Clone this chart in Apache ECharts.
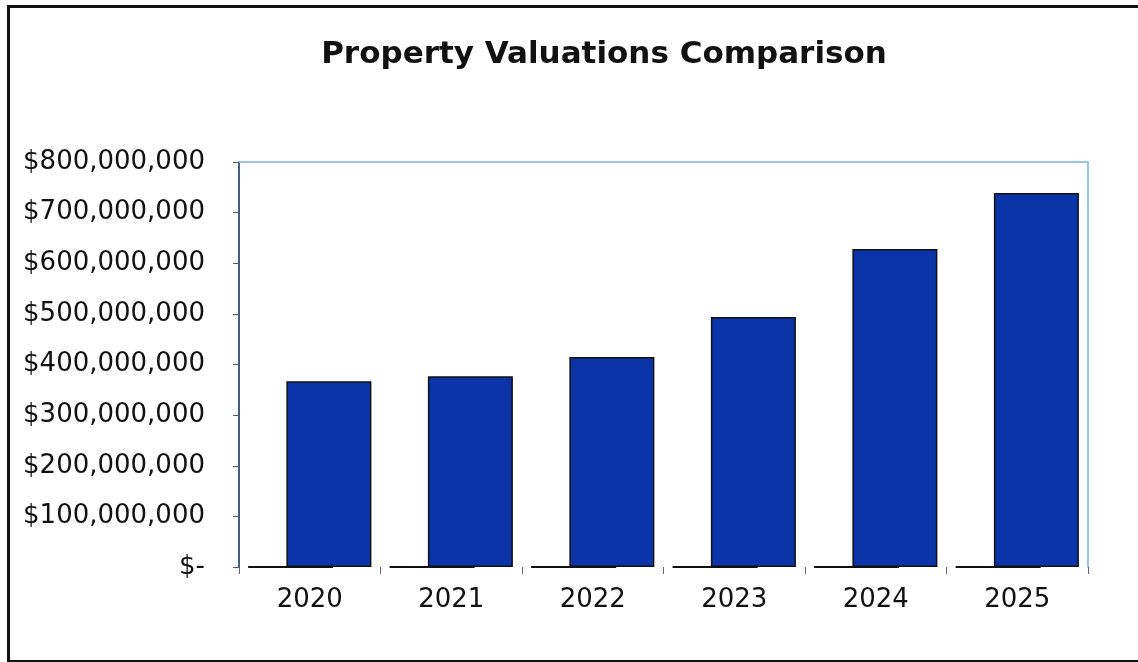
<!DOCTYPE html>
<html>
<head>
<meta charset="utf-8">
<script src="https://cdn.jsdelivr.net/npm/echarts@6/dist/echarts.min.js"></script>
<style>
  html, body { margin: 0; padding: 0; background: #fff; }
  #chart { position: absolute; left: 0; top: 0; width: 1138px; height: 662px; }
  #frame { position: absolute; left: 7px; top: 5px; width: 1140px; height: 652px;
           border: 3px solid #111; pointer-events: none; }
</style>
</head>
<body>
<div id="chart"></div>
<div id="frame"></div>
<script>
var years = ["2020", "2021", "2022", "2023", "2024", "2025"];
// first series sits at zero (shows as a flat line at the base)
var baseValues = [0, 0, 0, 0, 0, 0];
var valuations = [367000000, 377000000, 415000000, 494000000, 628000000, 739000000];
var yMin = 0, yMax = 800000000, yStep = 100000000;

var chart = echarts.init(document.getElementById("chart"));
var font = "DejaVu Sans, Liberation Sans, Arial, sans-serif";

function money(v) {
  if (v === 0) return "$-";
  return "$" + v.toLocaleString("en-US");
}

var option = {
  animation: false,
  title: {
    text: "Property Valuations Comparison",
    left: 599,
    textAlign: "center",
    top: 34,
    textStyle: { fontFamily: font, fontSize: 31, fontWeight: "bold", color: "#111" }
  },
  grid: { left: 239, right: 50, top: 162, bottom: 95 },
  xAxis: [
    {
      type: "category",
      data: years,
      axisLine: { show: false },
      axisTick: { show: true, length: 7, lineStyle: { color: "#667", width: 1 } },
      axisLabel: { margin: 20, fontFamily: font, fontSize: 26, color: "#111" }
    },
    {
      type: "category",
      position: "top",
      data: years,
      axisLine: { show: true, onZero: false, lineStyle: { color: "#9cc3ee", width: 2 } },
      axisTick: { show: false },
      axisLabel: { show: false }
    }
  ],
  yAxis: [
    {
      type: "value",
      min: yMin,
      max: yMax,
      interval: yStep,
      splitLine: { show: false },
      axisLine: { show: true, lineStyle: { color: "#40607e", width: 2 } },
      axisTick: { show: true, length: 6, lineStyle: { color: "#40607e" } },
      axisLabel: { margin: 34, fontFamily: font, fontSize: 26, color: "#111", formatter: money }
    },
    {
      type: "value",
      position: "right",
      min: yMin,
      max: yMax,
      interval: yStep,
      splitLine: { show: false },
      axisLine: { show: true, onZero: false, lineStyle: { color: "#9cc3ee", width: 2 } },
      axisTick: { show: false },
      axisLabel: { show: false }
    }
  ],
  series: [
    {
      name: "Base",
      type: "bar",
      data: baseValues,
      barWidth: 85,
      barGap: "-55%",
      itemStyle: { color: "#0a34a8", borderColor: "#111", borderWidth: 2 }
    },
    {
      name: "Valuation",
      type: "bar",
      data: valuations,
      barWidth: 85,
      itemStyle: { color: "#0a34a8", borderColor: "#111", borderWidth: 1.5 }
    }
  ]
};
chart.setOption(option);
</script>
</body>
</html>
